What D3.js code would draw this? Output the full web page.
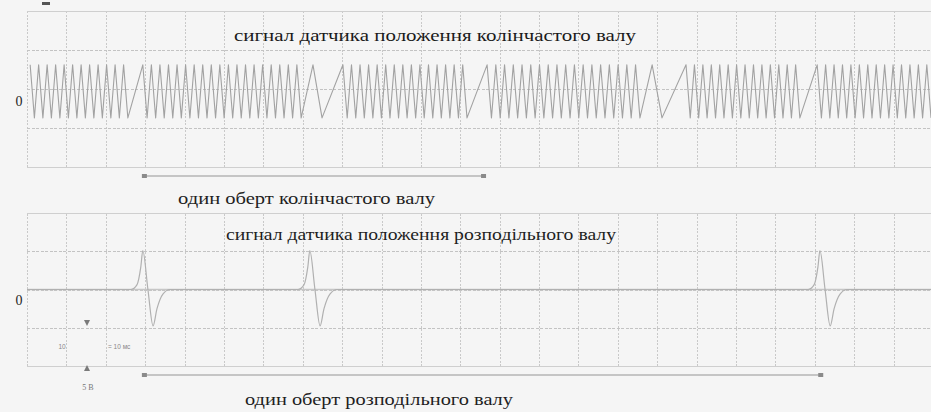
<!DOCTYPE html>
<html>
<head>
<meta charset="utf-8">
<script src="https://cdn.jsdelivr.net/npm/d3@7"></script>
<style>
  html, body { margin: 0; padding: 0; background: #f5f5f5; }
  svg { display: block; }
</style>
</head>
<body>
<svg id="chart" width="931" height="412"></svg>
<script>
// ---- time base: 10 ms per division ----
const gridTimes = [0, 10, 20, 30, 40, 50, 60, 70, 80, 90, 100, 110, 120, 130, 140, 150, 160, 170, 180, 190, 200, 210, 220, 230];
const gridLevels = [-2, -1, 0, 1, 2];
const zeroLabel = "0";

// ---- crankshaft sensor: runs of teeth separated by missing-tooth gaps ----
const crankHigh = 0.62;
const crankLow = -0.74;
const crankRunStart = [0.8, 29.4, 80.2, 116.8, 167.3, 200.6];
const crankRunEnd   = [25.6, 69.6, 111.7, 155.6, 196.2, 229.5];
const crankRunTeeth = [12, 19, 15, 18, 14, 14];
// vertices of the slow transitions that follow each run
const crankGapTimes  = [[], [72.6, 74.9], [], [158.7, 161.2], [], []];
const crankGapLevels = [[], ["H", "L"], [], ["H", "L"], [], []];

// ---- camshaft sensor ----
const camTimes = [0, 26.4, 27.9, 28.9, 29.4, 30.7, 32.0, 33.0, 34.5, 36.3,
                  68.8, 70.3, 71.3, 71.8, 73.1, 74.4, 75.4, 76.9, 78.7,
                  198.3, 199.8, 200.8, 201.3, 202.6, 203.9, 204.9, 206.4, 208.2, 230];
const camVolts = [0, 0, 0.12, 0.6, 1.02, 0, -0.95, -0.5, -0.12, 0,
                  0, 0.12, 0.6, 1.02, 0, -0.95, -0.5, -0.12, 0,
                  0, 0.12, 0.6, 1.02, 0, -0.95, -0.5, -0.12, 0, 0];

// ---- annotations ----
const crankTitle = "сигнал датчика положення колінчастого валу";
const crankRevLabel = "один оберт колінчастого валу";
const camTitle = "сигнал датчика положення розподільного валу";
const camRevLabel = "один оберт розподільного валу";
const crankRevolution = [29.8, 115.9];
const camRevolution = [29.8, 201.5];
const timeScaleText = "= 10 мс";
const timeScaleNum = "10";
const voltScaleText = "5 В";

const svg = d3.select("#chart");
const W = 931, H = 412;
svg.append("rect").attr("width", W).attr("height", H).attr("fill", "#f5f5f5");

const x = d3.scaleLinear().domain([0, 230]).range([27, 933]);
const yTop = d3.scaleLinear().domain([-2, 2]).range([167, 11]);
const yBot = d3.scaleLinear().domain([-2, 2]).range([366, 213]);

function drawGrid(y) {
  const [y0, y1] = y.range();
  const g = svg.append("g");
  // vertical divisions
  const gx = g.append("g").attr("transform", `translate(0,${y0})`)
    .call(d3.axisBottom(x).tickValues(gridTimes).tickSize(-(y0 - y1)).tickFormat(""));
  gx.select(".domain").remove();
  gx.selectAll(".tick line")
    .attr("stroke", "#c9c9c9").attr("stroke-width", 1)
    .attr("stroke-dasharray", "2,1.5")
    .attr("shape-rendering", "crispEdges");
  // horizontal divisions
  const gy = g.append("g").attr("transform", `translate(${x(0)},0)`)
    .call(d3.axisLeft(y).tickValues(gridLevels).tickSize(-(W - x(0))).tickFormat(""));
  gy.select(".domain").remove();
  gy.selectAll(".tick line")
    .attr("stroke", d => (Math.abs(d) === 2 ? "#cfcfcf" : "#c3c3c3"))
    .attr("stroke-width", 1)
    .attr("stroke-dasharray", d => (Math.abs(d) === 2 ? null : "3,1.5"))
    .attr("shape-rendering", "crispEdges");
  return g;
}

drawGrid(yTop);
const gBot = drawGrid(yBot);
// solid zero reference for the camshaft trace
gBot.append("line")
  .attr("x1", x(0)).attr("x2", W)
  .attr("y1", yBot(0)).attr("y2", yBot(0))
  .attr("stroke", "#c6c6c6").attr("stroke-width", 1.6);

// ---- build crankshaft vertex list from the runs ----
const crankPts = [];
crankRunStart.forEach((s, i) => {
  const e = crankRunEnd[i];
  const n = crankRunTeeth[i];
  const p = (e - s) / (n - 0.5);
  for (let k = 0; k < n; k++) {
    crankPts.push([s + k * p, crankHigh]);
    crankPts.push([s + k * p + p / 2, crankLow]);
  }
  crankGapTimes[i].forEach((t, j) => {
    crankPts.push([t, crankGapLevels[i][j] === "H" ? crankHigh : crankLow]);
  });
});

svg.append("path")
  .datum(crankPts)
  .attr("fill", "none")
  .attr("stroke", "#a2a2a2")
  .attr("stroke-width", 1.1)
  .attr("stroke-linejoin", "round")
  .attr("d", d3.line().x(d => x(d[0])).y(d => yTop(d[1])));

// ---- camshaft trace ----
const camPts = camTimes.map((t, i) => [t, camVolts[i]]);
svg.append("path")
  .datum(camPts)
  .attr("fill", "none")
  .attr("stroke", "#b0b0b0")
  .attr("stroke-width", 1.2)
  .attr("d", d3.line().x(d => x(d[0])).y(d => yBot(d[1])).curve(d3.curveMonotoneX));

// ---- zero labels ----
svg.append("text").text(zeroLabel)
  .attr("x", 19).attr("y", yTop(0) + 17)
  .attr("text-anchor", "middle")
  .attr("font-family", "Liberation Serif, serif").attr("font-size", 14)
  .attr("fill", "#1e1e1e");
svg.append("text").text(zeroLabel)
  .attr("x", 19).attr("y", yBot(0) + 15)
  .attr("text-anchor", "middle")
  .attr("font-family", "Liberation Serif, serif").attr("font-size", 14)
  .attr("fill", "#1e1e1e");

// ---- titles ----
function label(txt, x0, x1, baseline, size, color) {
  svg.append("text").text(txt)
    .attr("x", x0).attr("y", baseline)
    .attr("font-family", "Liberation Serif, serif")
    .attr("font-size", size)
    .attr("fill", color)
    .attr("textLength", x1 - x0)
    .attr("lengthAdjust", "spacingAndGlyphs");
}
label(crankTitle, 234, 636, 41, 17.5, "#1a1a1a");
label(crankRevLabel, 178, 435, 204, 16.5, "#1e1e1e");
label(camTitle, 226, 616, 240, 17.5, "#1e1e1e");
label(camRevLabel, 245, 513, 405, 16.5, "#1e1e1e");

// ---- revolution markers ----
function revArrow(range, yPos) {
  const g = svg.append("g");
  g.append("line")
    .attr("x1", x(range[0])).attr("x2", x(range[1]))
    .attr("y1", yPos).attr("y2", yPos)
    .attr("stroke", "#b4b4b4").attr("stroke-width", 1.4);
  g.selectAll("rect").data(range).join("rect")
    .attr("x", d => x(d) - 2.5).attr("y", yPos - 2)
    .attr("width", 5).attr("height", 4)
    .attr("fill", "#8a8a8a");
}
revArrow(crankRevolution, 176);
revArrow(camRevolution, 375);

// ---- scale bars in the lower-left corner ----
const sb = svg.append("g").attr("fill", "#7a7a7a");
sb.append("path").attr("d", "M84,320 L90,320 L87,326 Z");
sb.append("path").attr("d", "M84,371 L90,371 L87,365 Z");
sb.append("text").text(timeScaleNum)
  .attr("x", 62).attr("y", 349).attr("text-anchor", "middle")
  .attr("font-family", "Liberation Sans, sans-serif").attr("font-size", 6.5)
  .attr("fill", "#888");
sb.append("text").text(timeScaleText)
  .attr("x", 108).attr("y", 349)
  .attr("font-family", "Liberation Sans, sans-serif").attr("font-size", 6.5)
  .attr("fill", "#888");
sb.append("text").text(voltScaleText)
  .attr("x", 88).attr("y", 390).attr("text-anchor", "middle")
  .attr("font-family", "Liberation Serif, serif").attr("font-size", 8)
  .attr("fill", "#777");

// trigger marker at the top-left
svg.append("rect").attr("x", 42).attr("y", 2).attr("width", 8).attr("height", 3).attr("fill", "#555");
</script>
</body>
</html>
